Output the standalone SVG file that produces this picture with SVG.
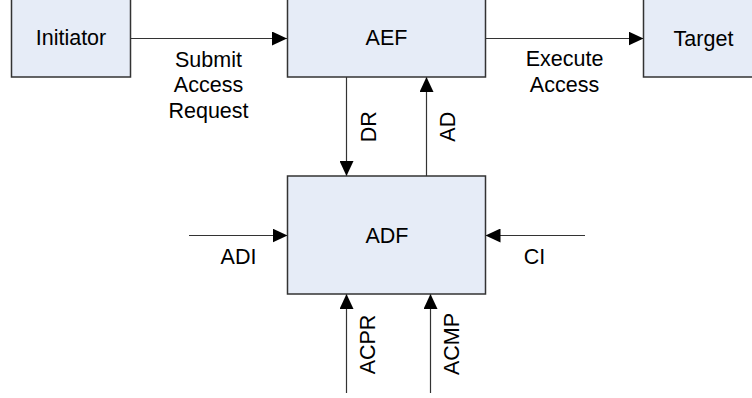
<svg xmlns="http://www.w3.org/2000/svg" width="752" height="398" viewBox="0 0 752 398">
<style>
.box{fill:#E6ECF7;stroke:#333;stroke-width:1.5}
.t{font-family:"Liberation Sans",Arial,sans-serif;font-size:21.5px;fill:#000;text-anchor:middle}
.c{stroke:#333;stroke-width:1.2;fill:none;marker-end:url(#ah)}
</style>
<defs>
<marker id="ah" markerUnits="userSpaceOnUse" markerWidth="15" markerHeight="14" refX="15" refY="7" orient="auto">
<path d="M0,0 L15,7 L0,14 z" fill="#000"/>
</marker>
</defs>
<rect width="752" height="398" fill="#fff"/>
<g id="connectors">
<line class="c" x1="130" y1="38.5" x2="287" y2="38.5"/>
<line class="c" x1="485.5" y1="38.5" x2="643.5" y2="38.5"/>
<line class="c" x1="346.5" y1="77" x2="346.5" y2="176"/>
<line class="c" x1="426.5" y1="176" x2="426.5" y2="77"/>
<line class="c" x1="189" y1="235.5" x2="287.5" y2="235.5"/>
<line class="c" x1="585" y1="235.5" x2="485.5" y2="235.5"/>
<line class="c" x1="346.5" y1="393" x2="346.5" y2="294"/>
<line class="c" x1="430.5" y1="393" x2="430.5" y2="294"/>
<g class="t">
<text x="208.5" y="66.5">Submit</text>
<text x="208.5" y="92.3">Access</text>
<text x="208.5" y="118">Request</text>
<text x="564.5" y="66">Execute</text>
<text x="564.5" y="92.3">Access</text>
<text transform="translate(375.5,126.7) rotate(-90)">DR</text>
<text transform="translate(455,126.7) rotate(-90)">AD</text>
<text x="238.5" y="264">ADI</text>
<text x="534.5" y="264">CI</text>
<text transform="translate(375,344.5) rotate(-90)">ACPR</text>
<text transform="translate(459,344) rotate(-90)">ACMP</text>
</g>
</g>
<g id="initiator">
<rect class="box" x="11.5" y="-2" width="119" height="79"/>
<text class="t" x="71" y="45">Initiator</text>
</g>
<g id="aef">
<rect class="box" x="287.5" y="-2" width="198" height="79"/>
<text class="t" x="386.5" y="45">AEF</text>
</g>
<g id="target">
<rect class="box" x="643.5" y="-2" width="119" height="79"/>
<text class="t" x="703.5" y="45.5">Target</text>
</g>
<g id="adf">
<rect class="box" x="287.5" y="176" width="198" height="118"/>
<text class="t" x="387" y="242.7">ADF</text>
</g>
</svg>
